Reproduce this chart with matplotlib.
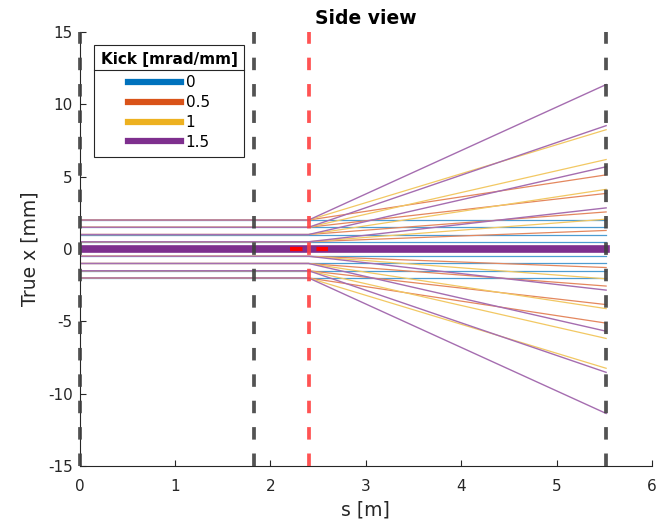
import matplotlib
matplotlib.use("Agg")
import matplotlib.pyplot as plt
from matplotlib.lines import Line2D
from matplotlib.colors import to_rgb

# kick strengths and colours (MATLAB default order)
kicks = [0, 0.5, 1, 1.5]
kick_labels = ["0", "0.5", "1", "1.5"]
colors = ["#0072BD", "#D95319", "#EDB120", "#7E2F8E"]

# ray starting offsets [mm] and their positions at s = 5.52 m
x_start = [-2, -1.5, -1, -0.5, 0.5, 1, 1.5, 2]
x_end = {
    0: [-2, -1.5, -1, -0.5, 0.5, 1, 1.5, 2],
    0.5: [-5.12, -3.84, -2.56, -1.28, 1.28, 2.56, 3.84, 5.12],
    1: [-8.24, -6.18, -4.12, -2.06, 2.06, 4.12, 6.18, 8.24],
    1.5: [-11.36, -8.52, -5.68, -2.84, 2.84, 5.68, 8.52, 11.36],
}

# element positions along the beamline [m]
s_source = 0.0
s_lens = 2.4
s_screen = 5.52
s_markers = [0.0, 1.83, 5.52]
lens_span = [2.2, 2.6]

plt.rcParams["font.family"] = "DejaVu Sans"
plt.rcParams["lines.scale_dashes"] = False
plt.rcParams["axes.unicode_minus"] = False
axcol = "#262626"


def pale(c, f=0.3):
    # thin rays look washed out in the original, blend toward white
    r, g, b = to_rgb(c)
    return (r + (1 - r) * f, g + (1 - g) * f, b + (1 - b) * f)


fig = plt.figure(figsize=(6.7, 5.22), dpi=100)
ax = fig.add_axes([0.119, 0.107, 0.854, 0.832])

for i, (k, c) in enumerate(zip(kicks, colors)):
    lw = 1.0 if i == len(kicks) - 1 else 0.9
    for x0, x1 in zip(x_start, x_end[k]):
        ax.plot([s_source, s_lens, s_screen], [x0, x0, x1],
                color=pale(c), lw=lw, zorder=2)

# on-axis ray
ax.plot([s_source, s_screen], [0, 0], color=colors[3], lw=5.5, zorder=3)

# lens extent
ax.plot(lens_span, [0, 0], color="red", lw=3, dashes=(9, 10), zorder=4)

for s in s_markers:
    ax.plot([s, s], [-15, 15], color="#404040", lw=2.7, dashes=(9, 10),
            alpha=0.9, zorder=5, clip_on=False)
ax.plot([s_lens, s_lens], [-15, 15], color="#ff4040", lw=2.7, dashes=(9, 10),
        alpha=0.9, zorder=5, clip_on=False)

ax.set_xlim(0, 6)
ax.set_ylim(-15, 15)
ax.set_xticks(range(0, 7))
ax.set_yticks(range(-15, 16, 5))
ax.spines["top"].set_visible(False)
ax.spines["right"].set_visible(False)
for sp in ["left", "bottom"]:
    ax.spines[sp].set_color(axcol)
    ax.spines[sp].set_linewidth(0.8)
ax.tick_params(direction="in", length=4, colors=axcol, labelsize=11)
ax.tick_params(axis="x", pad=9)
ax.tick_params(axis="y", pad=5)
ax.set_xlabel("s [m]", fontsize=13.5, color=axcol, labelpad=5)
ax.set_ylabel("True x [mm]", fontsize=13.5, color=axcol, labelpad=6)
ax.set_title("Side view", fontsize=13.5, fontweight="bold", pad=6)

handles = [Line2D([], [], color=c, lw=4.5) for c in colors]
leg = ax.legend(handles, kick_labels, title="Kick [mrad/mm]",
                loc="upper left", bbox_to_anchor=(0.0245, 0.97),
                borderaxespad=0, fontsize=11, handlelength=3.45,
                handletextpad=0.3, labelspacing=0.32, fancybox=False,
                framealpha=1, edgecolor=axcol, borderpad=0.45,
                title_fontproperties={"weight": "bold", "size": 11})
leg.get_frame().set_linewidth(0.8)
leg._legend_box.align = "center"
leg._legend_box.sep = 6

# separator under the legend title, as in MATLAB
fig.canvas.draw()
r = fig.canvas.get_renderer()
lb = leg.get_window_extent(r)
tb = leg.get_title().get_window_extent(r)
yline = tb.y0 - 3.5
inv = fig.transFigure.inverted()
p0 = inv.transform((lb.x0, yline))
p1 = inv.transform((lb.x1, yline))
fig.add_artist(Line2D([p0[0], p1[0]], [p0[1], p1[1]], color=axcol, lw=0.8,
                      transform=fig.transFigure))

fig.savefig("out.png", dpi=100)
